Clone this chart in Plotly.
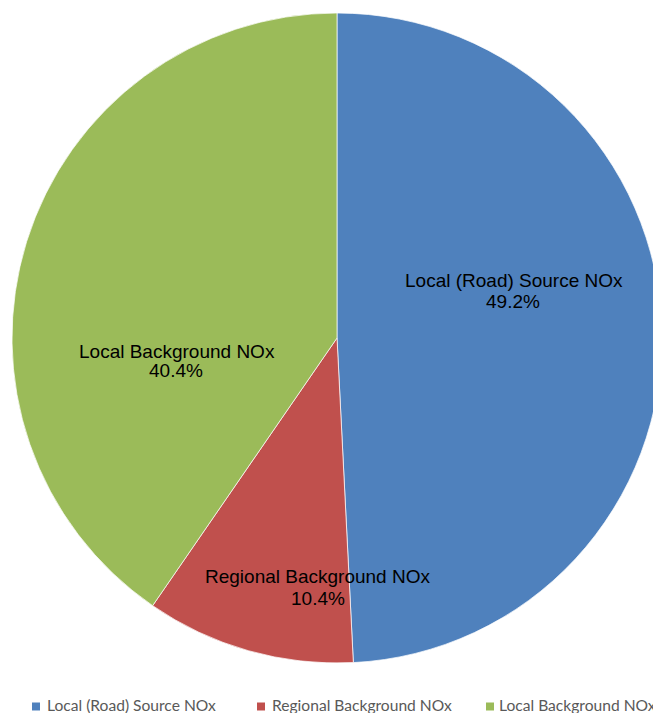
import plotly.graph_objects as go

# ---- data ----
categories = ["Local (Road) Source NOx", "Regional Background NOx", "Local Background NOx"]
values = [49.2, 10.4, 40.4]
colors = ["#4F81BD", "#C0504D", "#9BBB59"]

# ---- layout helpers (pixel positions) ----
W, H = 680, 725
def px(x):
    return x / W
def py(y):
    return 1 - y / H

# label centres (name line, percent line) in pixels
label_pos = [((514, 281), (512.5, 301.5)),
             ((317.5, 576), (317.5, 598)),
             ((176.5, 351), (176, 371))]
# legend: square left x, text left x
legend_sq_x = [32, 257, 486]
legend_txt_x = [45, 270, 497]

fig = go.Figure()
fig.add_trace(go.Pie(
    labels=categories,
    values=values,
    sort=False,
    direction="clockwise",
    rotation=0,
    marker=dict(colors=colors, line=dict(color="rgba(255,255,255,0.7)", width=1)),
    textinfo="none",
    hoverinfo="label+percent",
    showlegend=False,
    domain=dict(x=[px(12), px(662)], y=[py(663), py(13)]),
))

total = sum(values)
annotations = []
for cat, val, (p1, p2) in zip(categories, values, label_pos):
    annotations.append(dict(x=px(p1[0]), y=py(p1[1]), xref="paper", yref="paper",
                            text=cat, showarrow=False, xanchor="center", yanchor="middle",
                            font=dict(family="Liberation Sans, Arial", size=19, color="#000000")))
    annotations.append(dict(x=px(p2[0]), y=py(p2[1]), xref="paper", yref="paper",
                            text=f"{val / total * 100:.1f}%", showarrow=False,
                            xanchor="center", yanchor="middle",
                            font=dict(family="Liberation Sans, Arial", size=19, color="#000000")))

shapes = []
for cat, col, sx, tx in zip(categories, colors, legend_sq_x, legend_txt_x):
    shapes.append(dict(type="rect", xref="paper", yref="paper",
                       x0=px(sx), x1=px(sx + 8), y0=py(710.5), y1=py(702.5),
                       fillcolor=col, line=dict(width=0)))
    annotations.append(dict(x=px(tx), y=py(704.5), xref="paper", yref="paper",
                            text=cat, showarrow=False, xanchor="left", yanchor="middle",
                            font=dict(family="Lato", size=15.6, color="#595959")))

fig.update_layout(
    width=W, height=H,
    margin=dict(l=0, r=0, t=0, b=0),
    paper_bgcolor="white",
    plot_bgcolor="white",
    annotations=annotations,
    shapes=shapes,
    showlegend=False,
)

post = ("document.body.style.margin='0px';"
        "document.body.style.overflow='hidden';"
        "document.documentElement.style.overflow='hidden';")
fig.write_html("out.html", post_script=post, config={"displayModeBar": False})
